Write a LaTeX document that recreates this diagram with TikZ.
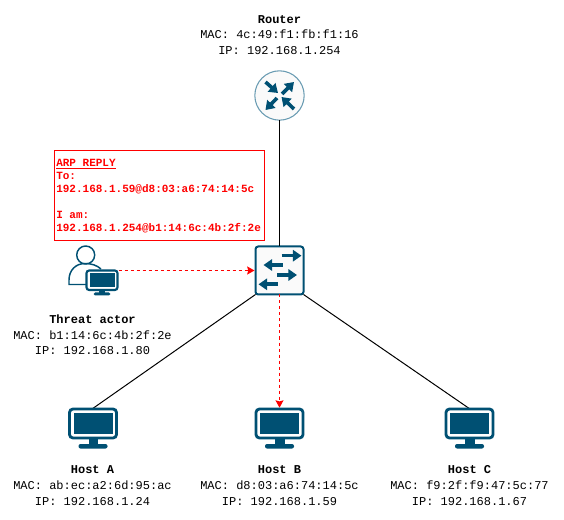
\documentclass[tikz,border=0pt]{standalone}
\usepackage{fontspec}
\setmainfont{Liberation Mono}
\usetikzlibrary{arrows.meta}
\definecolor{netblue}{HTML}{005073}
\definecolor{ringblue}{HTML}{6A9CB3}
\definecolor{alertred}{HTML}{FF0000}
\tikzset{
  label text/.style={font=\fontsize{9pt}{11.7pt}\selectfont, align=center, inner sep=0pt, text=black},
  anchor box/.style={inner sep=0pt, outer sep=0pt, draw=none},
  fat/.style={draw=netblue, line width=2.7pt, -{Triangle[length=6.4pt, width=8.4pt, fill=netblue]}},
  wire/.style={draw=black, line width=0.75pt},
  attack/.style={draw=alertred, line width=0.75pt, dash pattern=on 2.25pt off 2.25pt, shorten >=0.75pt, -{Stealth[length=5.5pt, width=6pt, inset=0.8pt, fill=alertred]}},
  monitor line/.style={draw=netblue, line width=2.1pt, rounded corners=2.6pt, fill=white},
  screen/.style={fill=netblue},
}
% one monitor drawn around a centre in pixels
\newcommand{\hostscreen}[2]{%
  \path[monitor line] (#1-23.5,#2-19) rectangle (#1+23.5,#2+10);
  \fill[screen] (#1-19.5,#2-15) rectangle (#1+19.5,#2+6);
  \fill[screen] (#1-4.5,#2+10) rectangle (#1+5,#2+17);
  \fill[screen, rounded corners=1.5pt] (#1-14.5,#2+16) rectangle (#1+14.5,#2+20.5);
}
\begin{document}
\begin{tikzpicture}[x=0.75pt,y=-0.75pt]
\useasboundingbox (0,0) rectangle (564,520);
\fill[white] (0,0) rectangle (564,520);

% anchors for the devices
\node[minimum width=37pt, minimum height=37pt, circle, inner sep=0pt, outer sep=0pt, draw=ringblue, line width=0.8pt, fill=white!98!black] (router) at (279.5,95.5) {};
\node[minimum width=36pt, minimum height=36pt, inner sep=0pt, outer sep=0pt, draw=netblue, line width=1.5pt, rounded corners=2pt, fill=white!98!black] (switch) at (279.5,270.5) {};
\node[anchor box, minimum width=35pt, minimum height=23pt] (hostA) at (92.5,424) {};
\node[anchor box, minimum width=35pt, minimum height=23pt] (hostB) at (279.5,424) {};
\node[anchor box, minimum width=35pt, minimum height=23pt] (hostC) at (469.5,424) {};
\node[anchor box, minimum width=25pt, minimum height=15pt] (actor) at (102,280.5) {};

% connectors
\draw[wire] (router.south) -- (switch.north);
\draw[wire] (switch.south west) -- (hostA.north);
\draw[wire] (switch.south east) -- (hostC.north);
\draw[attack] (switch.south) -- (hostB.north);
\draw[attack] (actor.north east) -- (switch.west);

% router arrows
\draw[fat] (265.5,82) -- (278,93);
\draw[fat] (282,94) -- (294,82);
\draw[fat] (277,98) -- (265.5,110);
\draw[fat] (294,109) -- (281.5,97);

% switch arrows
\draw[fat] (281.5,255.7) -- (301.5,255.7);
\draw[fat] (282.5,265) -- (263.5,265);
\draw[fat] (277,275) -- (297,275);
\draw[fat] (278,284.3) -- (258.5,284.3);

% monitors
\hostscreen{93}{428}
\hostscreen{279.5}{428}
\hostscreen{469.5}{428}

% threat actor
\draw[draw=netblue, line width=1.1pt, fill=white] (85.7,255) circle[radius=9];
\draw[draw=netblue, line width=1.1pt] (88,284.5) -- (69,284.5) -- (69,280) .. controls (69,270) and (76,263.5) .. (85,263.5) .. controls (92,263.5) and (97,265.5) .. (101,269);
\draw[monitor line, line width=1.6pt, rounded corners=2pt] (86.5,270.5) rectangle (117.5,290);
\fill[screen] (89.5,273.5) rectangle (114.5,287);
\fill[screen] (98.5,290) rectangle (105,293);
\fill[screen, rounded corners=1.2pt] (93.5,292.5) rectangle (110.5,295.5);

% alert box
\node[draw=alertred, line width=0.75pt, fill=white, anchor=north west, inner sep=0pt, outer sep=0pt, minimum width=157.5pt, minimum height=67.5pt] (alert) at (54.5,150.5) {};
\node[anchor=north west, inner sep=0pt, text=alertred, align=left, font=\fontsize{8.25pt}{9.75pt}\selectfont\bfseries] (alerttext) at (56,158.5) {\underline{ARP REPLY}\\To:\\192.168.1.59@d8:03:a6:74:14:5c\\[9.75pt]I am:\\192.168.1.254@b1:14:6c:4b:2f:2e};

% labels
\node[label text] (routerlabel) at (279.5,35) {\textbf{Router}\\MAC: 4c:49:f1:fb:f1:16\\IP: 192.168.1.254};
\node[label text] (actorlabel) at (92.5,335) {\textbf{Threat actor}\\MAC: b1:14:6c:4b:2f:2e\\IP: 192.168.1.80};
\node[label text] (alabel) at (92.5,485.5) {\textbf{Host A}\\MAC: ab:ec:a2:6d:95:ac\\IP: 192.168.1.24};
\node[label text] (blabel) at (279.5,485.5) {\textbf{Host B}\\MAC: d8:03:a6:74:14:5c\\IP: 192.168.1.59};
\node[label text] (clabel) at (469.5,485.5) {\textbf{Host C}\\MAC: f9:2f:f9:47:5c:77\\IP: 192.168.1.67};
\end{tikzpicture}
\end{document}
